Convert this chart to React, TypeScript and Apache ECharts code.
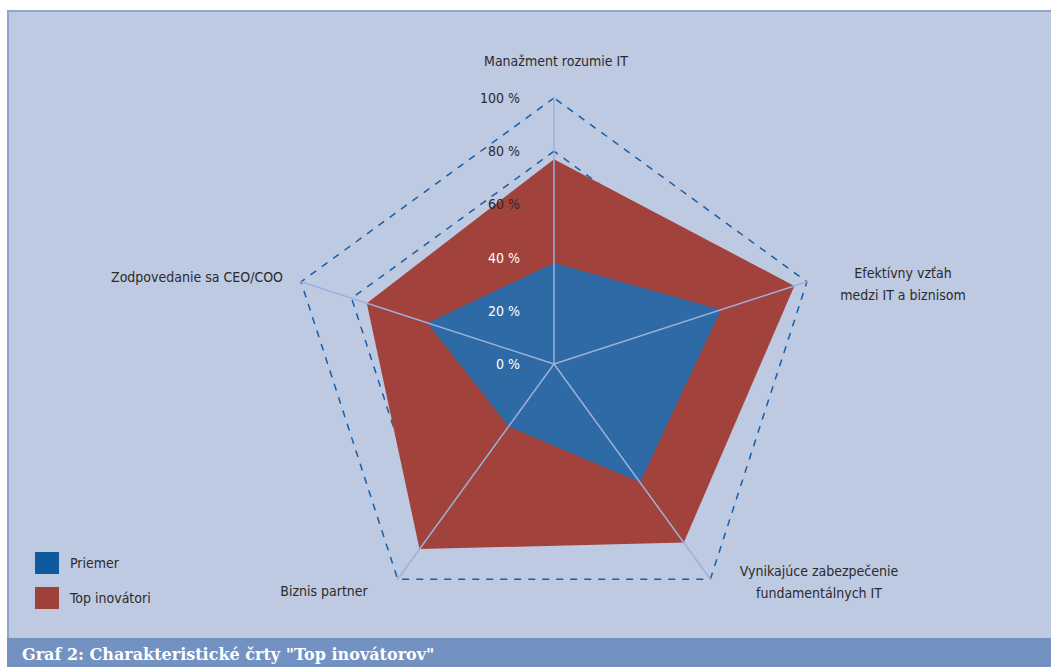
import React, { useEffect, useRef } from "react";
import * as echarts from "echarts";

// Indicators in the radar's own (counter-clockwise) order, starting at the top
const categories = [
  "Manažment rozumie IT",
  "Zodpovedanie sa CEO/COO",
  "Biznis partner",
  "Vynikajúce zabezpečenie\nfundamentálnych IT",
  "Efektívny vzťah\nmedzi IT a biznisom",
];
const priemer = [38, 50, 29, 55, 66];
const topInovatori = [77, 74, 86, 83, 95];
const seriesNames = ["Priemer", "Top inovátori"];
const tickValues = [0, 20, 40, 60, 80, 100];
const caption = 'Graf 2: Charakteristické črty "Top inovátorov"';

const FONT = "'DejaVu Sans Condensed', 'Liberation Sans Narrow', 'Roboto Condensed', sans-serif";
const CX = 554;
const CY = 364;
const R = 266;

// label anchor positions for indicator names (same order as categories)
const namePos = [
  [556, 61],
  [197, 277],
  [324, 591],
  [819, 582],
  [903, 284],
];

export default function App() {
  const ref = useRef<HTMLDivElement>(null);
  useEffect(() => {
    if (!ref.current) return;
    const chart = echarts.init(ref.current, null, { renderer: "svg" });
    const indicator = categories.map((c) => ({ name: c, max: 100, min: 0 }));
    const option: any = {
      animation: false,
      backgroundColor: "#ffffff",
      title: {
        text: caption,
        left: 17,
        top: 641,
        textStyle: {
          color: "#ffffff",
          fontFamily: "'DejaVu Serif', 'Liberation Serif', serif",
          fontWeight: "bold",
          fontSize: 16,
        },
      },
      graphic: [
        {
          type: "rect",
          z: -10,
          shape: { x: 7, y: 10, width: 1044, height: 628 },
          style: { fill: "#bec9e2" },
        },
        {
          type: "rect",
          z: -9,
          shape: { x: 7, y: 10, width: 1044, height: 2 },
          style: { fill: "#8ea5ce" },
        },
        {
          type: "rect",
          z: -9,
          shape: { x: 7, y: 10, width: 2, height: 628 },
          style: { fill: "#8ea5ce" },
        },
        {
          type: "rect",
          z: -9,
          shape: { x: 7, y: 638, width: 1044, height: 29 },
          style: { fill: "#7391c1" },
        },
        ...categories.map((c, i) => ({
          type: "text",
          z: 20,
          x: namePos[i][0],
          y: namePos[i][1],
          style: {
            text: c,
            textAlign: "center",
            textVerticalAlign: "middle",
            fontFamily: FONT,
            fontSize: 14,
            lineHeight: 22,
            fill: "#2b2b2b",
          },
        })),
      ],
      legend: {
        orient: "vertical",
        left: 30,
        top: 547,
        itemWidth: 24,
        itemHeight: 22,
        itemGap: 13,
        icon: "rect",
        textStyle: { fontFamily: FONT, fontSize: 14, color: "#2b2b2b", padding: [0, 0, 0, 6] },
        data: [
          { name: seriesNames[0], itemStyle: { color: "#0d5a9f" } },
          { name: seriesNames[1], itemStyle: { color: "#a1403b" } },
        ],
      },
      radar: [
        {
          center: [CX, CY],
          radius: R,
          startAngle: 90,
          splitNumber: 5,
          shape: "polygon",
          indicator,
          axisName: { show: false },
          axisLine: { show: false },
          splitArea: { show: false },
          splitLine: {
            show: true,
            lineStyle: {
              color: ["rgba(0,0,0,0)", "rgba(0,0,0,0)", "rgba(0,0,0,0)", "rgba(0,0,0,0)", "#175fa8", "#175fa8"],
              width: 1.5,
              type: [7, 7],
            },
          },
          z: 0,
        },
        {
          center: [CX, CY],
          radius: R,
          startAngle: 90,
          splitNumber: 5,
          shape: "polygon",
          indicator,
          axisName: { show: false },
          axisLine: { show: true, lineStyle: { color: "#9db1da", width: 1.5 } },
          splitArea: { show: false },
          splitLine: { show: false },
          z: 5,
        },
      ],
      grid: { left: CX, top: CY - R, width: 10, height: R },
      xAxis: { type: "value", show: false },
      yAxis: {
        type: "value",
        min: 0,
        max: 100,
        interval: 20,
        z: 10,
        axisLine: { show: false },
        axisTick: { show: false },
        splitLine: { show: false },
        axisLabel: {
          margin: 34,
          fontFamily: FONT,
          fontSize: 14,
          formatter: (v: number) => (tickValues.includes(v) ? v + " %" : ""),
          color: (v: any) => (Number(v) <= 40 ? "#ffffff" : "#2b2b2b"),
        },
      },
      series: [
        {
          type: "radar",
          radarIndex: 0,
          name: seriesNames[1],
          symbol: "none",
          z: 2,
          lineStyle: { width: 0 },
          itemStyle: { color: "#a2423d" },
          areaStyle: { color: "#a2423d", opacity: 1 },
          data: [{ value: topInovatori, name: seriesNames[1] }],
        },
        {
          type: "radar",
          radarIndex: 0,
          name: seriesNames[0],
          symbol: "none",
          z: 3,
          lineStyle: { width: 0 },
          itemStyle: { color: "#2d6aa6" },
          areaStyle: { color: "#2d6aa6", opacity: 1 },
          data: [{ value: priemer, name: seriesNames[0] }],
        },
      ],
    };
    chart.setOption(option);
    return () => chart.dispose();
  }, []);
  return (
    <div
      ref={ref}
      style={{ position: "absolute", left: 0, top: 0, width: 1051, height: 667 }}
    />
  );
}
